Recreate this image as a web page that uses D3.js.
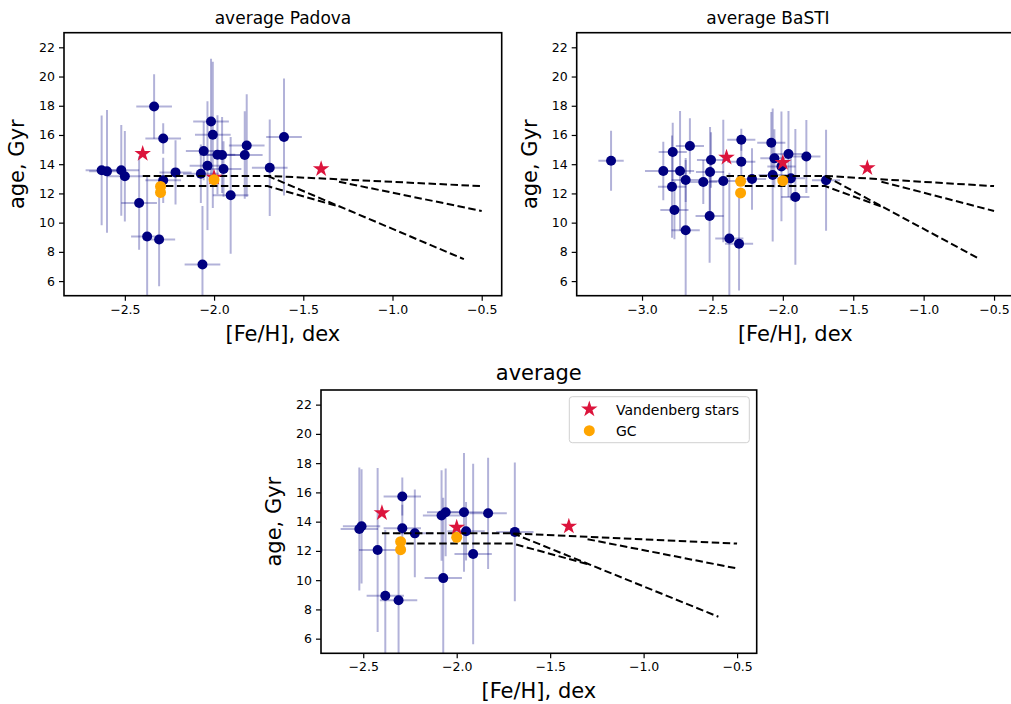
<!DOCTYPE html>
<html><head><meta charset="utf-8">
<script src="https://cdn.jsdelivr.net/npm/d3@7"></script>
<style>body{margin:0;background:#fff} text{font-family:"DejaVu Sans",sans-serif;fill:#000}</style>
</head><body><svg id="c" width="1011" height="704"></svg>
<script>
// ---------- DATA ----------
const padovaFeh  = [-2.63,-2.60,-2.52,-2.50,-2.42,-2.375,-2.336,-2.308,-2.285,-2.285,-2.216,-2.074,-2.065,-2.058,-2.037,-2.017,-2.007,-1.981,-1.955,-1.947,-1.907,-1.828,-1.817,-1.688,-1.608];
const padovaAge  = [13.58,13.51,13.58,13.17,11.35,9.05,17.95,8.85,15.76,12.9,13.44,13.35,7.14,14.9,13.9,16.92,16.01,14.65,14.63,13.67,11.87,14.63,15.28,13.76,15.86];
const padovaXerr = [0.09,0.1,0.1,0.1,0.1,0.09,0.1,0.09,0.1,0.1,0.09,0.1,0.1,0.1,0.1,0.1,0.1,0.1,0.1,0.1,0.1,0.1,0.1,0.1,0.1];
const padovaYerr = [3.75,4.2,3.1,3.1,3.2,4.1,2.2,3.2,1.05,1.55,2.2,2.0,4.0,2.0,4.4,4.3,5.0,2.7,2.6,1.9,4.0,3.0,3.5,3.3,4.0];

const bastiFeh  = [-3.22,-2.849,-2.782,-2.787,-2.77,-2.73,-2.69,-2.69,-2.66,-2.565,-2.517,-2.51,-2.52,-2.423,-2.38,-2.311,-2.295,-2.295,-2.219,-2.082,-2.06,-2.072,-2.01,-1.96,-1.943,-1.911,-1.833,-1.693];
const bastiAge  = [14.24,13.54,14.83,12.46,10.87,13.54,12.92,9.48,15.24,12.78,13.47,14.29,10.46,12.85,8.91,8.55,15.67,14.17,12.99,15.47,14.4,13.26,13.85,14.7,13.03,11.76,14.53,12.9];
const bastiXerr = [0.09,0.13,0.1,0.1,0.1,0.1,0.1,0.1,0.1,0.1,0.1,0.1,0.1,0.1,0.1,0.1,0.1,0.1,0.1,0.1,0.1,0.1,0.1,0.1,0.1,0.1,0.1,0.1];
const bastiYerr = [2.05,2.0,2.0,3.5,2.0,4.1,1.5,4.8,1.9,1.5,3.07,1.9,3.2,4.2,4.5,3.2,0.75,1.5,2.1,2.1,2.0,4.55,3.76,2.94,1.5,4.65,2.5,3.45];

const avgFeh  = [-2.521,-2.509,-2.423,-2.382,-2.311,-2.291,-2.291,-2.224,-2.081,-2.059,-2.072,-1.961,-1.95,-1.912,-1.832,-1.689];
const avgAge  = [13.5,13.68,12.06,8.93,8.63,15.72,13.55,13.2,14.42,14.64,10.14,14.64,13.34,11.79,14.57,13.3];
const avgXerr = [0.1,0.1,0.1,0.1,0.1,0.1,0.1,0.1,0.1,0.1,0.1,0.1,0.1,0.1,0.1,0.1];
const avgYerr = [4.2,3.9,5.6,4.5,4.0,1.3,1.6,3.0,3.1,3.0,5.5,4.06,2.0,6.17,3.8,4.74];

const starFeh       = [-2.4,-2.0,-1.4];
const starAgePadova = [14.72,13.1,13.67];
const starAgeBasti  = [14.46,14.1,13.74];
const starAgeAvg    = [14.6,13.61,13.68];

const gcFeh       = [-2.3,-2.3,-2.0];
const gcAgePadova = [12.48,12.07,12.94];
const gcAgeBasti  = [12.83,12.03,12.87];
const gcAgeAvg    = [12.63,12.08,12.93];

// dashed relations
const relation1 = [[-2.4,13.2],[-1.7,13.2],[-0.5,12.5]];
const relation2 = [[-2.27,12.5],[-1.7,12.5],[-1.3,11.1]];
const relation3 = [[-1.7,13.2],[-0.6,7.5]];
const relation4 = [[-1.3,12.8],[-0.5,10.8]];
const relations = [relation1,relation2,relation3,relation4];

const yTicks = [6,8,10,12,14,16,18,20,22];
const xTicksA = [-2.5,-2.0,-1.5,-1.0,-0.5];
const xTicksB = [-3.0,-2.5,-2.0,-1.5,-1.0,-0.5];

const titles = ["average Padova","average BaSTI","average"];
const xLabel = "[Fe/H], dex";
const yLabel = "age, Gyr";
const legendLabels = ["Vandenberg stars","GC"];

// ---------- LAYOUT ----------
const panels = [
  {title:titles[0], feh:padovaFeh, age:padovaAge, xe:padovaXerr, ye:padovaYerr, sAge:starAgePadova, gAge:gcAgePadova,
   x0:64, x1:501.7, y0:32.7, y1:295.7, xdom:[-2.841,-0.388], xt:xTicksA, tx:283, ty:24, tfs:17, ylx:24, legend:false},
  {title:titles[1], feh:bastiFeh, age:bastiAge, xe:bastiXerr, ye:bastiYerr, sAge:starAgeBasti, gAge:gcAgeBasti,
   x0:576.7, x1:1013.9, y0:32.7, y1:295.7, xdom:[-3.464,-0.359], xt:xTicksB, tx:768, ty:24, tfs:17, ylx:537, legend:false},
  {title:titles[2], feh:avgFeh, age:avgAge, xe:avgXerr, ye:avgYerr, sAge:starAgeAvg, gAge:gcAgeAvg,
   x0:321, x1:756.7, y0:390, y1:653.3, xdom:[-2.726,-0.395], xt:xTicksA, tx:538.8, ty:380, tfs:21, ylx:281, legend:true}
];

const svg = d3.select("#c");
const ebColor = "rgba(0,0,128,0.3)";

panels.forEach((p,i)=>{
  const x = d3.scaleLinear().domain(p.xdom).range([p.x0,p.x1]);
  const y = d3.scaleLinear().domain([5,23]).range([p.y1,p.y0]);
  const g = svg.append("g");
  const cid = "clip"+i;
  svg.append("defs").append("clipPath").attr("id",cid)
    .append("rect").attr("x",p.x0).attr("y",p.y0).attr("width",p.x1-p.x0).attr("height",p.y1-p.y0);
  const plot = g.append("g").attr("clip-path",`url(#${cid})`);
  const idx = d3.range(p.feh.length);
  // error bars
  plot.selectAll(".ev").data(idx).join("line")
    .attr("x1",k=>x(p.feh[k])).attr("x2",k=>x(p.feh[k]))
    .attr("y1",k=>y(p.age[k]-p.ye[k])).attr("y2",k=>y(p.age[k]+p.ye[k]))
    .attr("stroke",ebColor).attr("stroke-width",2);
  plot.selectAll(".eh").data(idx).join("line")
    .attr("x1",k=>x(p.feh[k]-p.xe[k])).attr("x2",k=>x(p.feh[k]+p.xe[k]))
    .attr("y1",k=>y(p.age[k])).attr("y2",k=>y(p.age[k]))
    .attr("stroke",ebColor).attr("stroke-width",2);
  plot.selectAll(".pt").data(idx).join("circle")
    .attr("cx",k=>x(p.feh[k])).attr("cy",k=>y(p.age[k])).attr("r",5).attr("fill","#000080");
  // relations
  const line = d3.line().x(d=>x(d[0])).y(d=>y(d[1]));
  relations.forEach(r=>{
    plot.append("path").attr("d",line(r)).attr("fill","none").attr("stroke","#000")
      .attr("stroke-width",2).attr("stroke-dasharray","7.5,3.5");
  });
  // stars
  const star = d3.symbol(d3.symbolStar).size(85);
  plot.selectAll(".st").data(d3.range(starFeh.length)).join("path")
    .attr("d",star).attr("transform",k=>`translate(${x(starFeh[k])},${y(p.sAge[k])})`).attr("fill","#dc143c");
  // GC
  plot.selectAll(".gc").data(d3.range(gcFeh.length)).join("circle")
    .attr("cx",k=>x(gcFeh[k])).attr("cy",k=>y(p.gAge[k])).attr("r",5.5).attr("fill","#ffa500");

  // axes
  const xa = g.append("g").attr("transform",`translate(0,${p.y1})`)
    .call(d3.axisBottom(x).tickValues(p.xt).tickSize(5).tickSizeOuter(0).tickPadding(4).tickFormat(d3.format(".1f")));
  const ya = g.append("g").attr("transform",`translate(${p.x0},0)`)
    .call(d3.axisLeft(y).tickValues(yTicks).tickSize(5).tickSizeOuter(0).tickPadding(4).tickFormat(d3.format("d")));
  [xa,ya].forEach(a=>{
    a.select(".domain").remove();
    a.selectAll("line").attr("stroke","#000").attr("stroke-width",1.2);
    a.selectAll("text").attr("font-size",12.5).attr("font-family","DejaVu Sans").attr("fill","#000");
  });
  g.append("rect").attr("x",p.x0).attr("y",p.y0).attr("width",p.x1-p.x0).attr("height",p.y1-p.y0)
    .attr("fill","none").attr("stroke","#000").attr("stroke-width",1.6);

  // labels
  g.append("text").attr("x",p.tx).attr("y",p.ty).attr("text-anchor","middle").attr("font-size",p.tfs).text(p.title);
  g.append("text").attr("x",(p.x0+p.x1)/2).attr("y",p.y1+45).attr("text-anchor","middle").attr("font-size",21).text(xLabel);
  g.append("text").attr("transform",`translate(${p.ylx},${(p.y0+p.y1)/2}) rotate(-90)`)
    .attr("text-anchor","middle").attr("font-size",21).text(yLabel);

  if(p.legend){
    const lg = g.append("g");
    lg.append("rect").attr("x",569.3).attr("y",396.7).attr("width",180).attr("height",46).attr("rx",3)
      .attr("fill","rgba(255,255,255,0.8)").attr("stroke","#d0d0d0").attr("stroke-width",1);
    lg.append("path").attr("d",star).attr("transform","translate(589.3,409.3)").attr("fill","#dc143c");
    lg.append("circle").attr("cx",589.3).attr("cy",430.7).attr("r",5.5).attr("fill","#ffa500");
    lg.append("text").attr("x",616).attr("y",414.5).attr("font-size",14).text(legendLabels[0]);
    lg.append("text").attr("x",616).attr("y",436).attr("font-size",14).text(legendLabels[1]);
  }
});
</script></body></html>
